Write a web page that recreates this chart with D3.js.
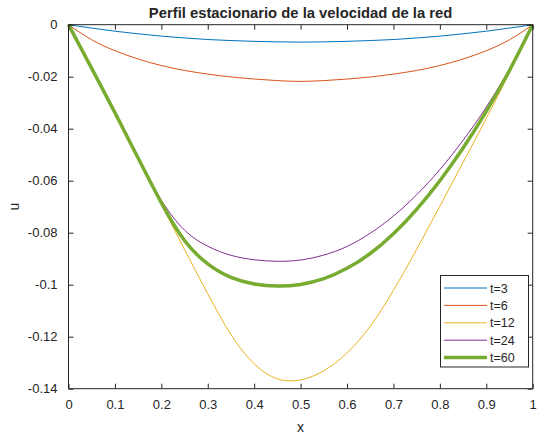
<!DOCTYPE html>
<html><head><meta charset="utf-8">
<script src="https://cdn.jsdelivr.net/npm/d3@7"></script>
<style>body{margin:0;background:#fff}svg{display:block}text{font-family:"Liberation Sans",Arial,Helvetica,sans-serif;fill:#262626}</style>
</head><body>
<script>
const xs = [0,0.05,0.1,0.15,0.2,0.25,0.3,0.35,0.4,0.45,0.5,0.55,0.6,0.65,0.7,0.75,0.8,0.85,0.9,0.95,1];
const t3  = [0,-0.0013,-0.0025,-0.0035,-0.0044,-0.0051,-0.0057,-0.0061,-0.0064,-0.0066,-0.0067,-0.0066,-0.0064,-0.0061,-0.0057,-0.0051,-0.0044,-0.0035,-0.0025,-0.0013,0];
const t6  = [0,-0.0058,-0.0100,-0.0132,-0.0157,-0.0176,-0.0190,-0.0201,-0.0209,-0.0215,-0.0218,-0.0215,-0.0209,-0.0201,-0.0190,-0.0176,-0.0157,-0.0132,-0.0100,-0.0058,0];
const t12 = [0,-0.0168,-0.0338,-0.0513,-0.0690,-0.0865,-0.1035,-0.1192,-0.1304,-0.1362,-0.1366,-0.1331,-0.1262,-0.1160,-0.1022,-0.0864,-0.0698,-0.0530,-0.0360,-0.0185,0];
const t24 = [0,-0.0168,-0.0338,-0.0513,-0.0675,-0.0790,-0.0852,-0.0887,-0.0904,-0.0910,-0.0905,-0.0886,-0.0853,-0.0802,-0.0736,-0.0654,-0.0557,-0.0445,-0.0317,-0.0169,0];
const t60 = [0,-0.0168,-0.0338,-0.0513,-0.0685,-0.0830,-0.0920,-0.0972,-0.0997,-0.1005,-0.0999,-0.0977,-0.0937,-0.0880,-0.0804,-0.0710,-0.0600,-0.0474,-0.0333,-0.0176,0];
const seriesNames = ["t=3","t=6","t=12","t=24","t=60"];
const xTicks = [0,0.1,0.2,0.3,0.4,0.5,0.6,0.7,0.8,0.9,1];
const yTicks = [0,-0.02,-0.04,-0.06,-0.08,-0.1,-0.12,-0.14];
const titleText = "Perfil estacionario de la velocidad de la red";

const W=545,H=437;
const m={left:68.5,right:532.7,top:24.7,bottom:388.7};
const colors=["#0072BD","#D95319","#EDB120","#7E2F8E","#77AC30"];
const widths=[1,1,1,1,3.5];
const svg=d3.select("body").append("svg").attr("width",W).attr("height",H);
const x=d3.scaleLinear().domain([0,1]).range([m.left,m.right]);
const y=d3.scaleLinear().domain([-0.14,0]).range([m.bottom,m.top]);
const all=[t3,t6,t12,t24,t60];

const line=d3.line().x((d,i)=>x(xs[i])).y(d=>y(d)).curve(d3.curveNatural);
const g=svg.append("g");
all.forEach((s,k)=>{
  g.append("path").attr("d",line(s)).attr("fill","none").attr("stroke",colors[k]).attr("stroke-width",widths[k]).attr("stroke-linejoin","round");
});

const fmt=d=>d===0?"0":String(d);
const ax=svg.append("g");
const tl=5;
const bottomAx=d3.axisBottom(x).tickValues(xTicks).tickSize(-tl).tickPadding(tl+6).tickFormat(fmt);
const topAx=d3.axisTop(x).tickValues(xTicks).tickSize(-tl).tickFormat("");
const leftAx=d3.axisLeft(y).tickValues(yTicks).tickSize(-tl).tickPadding(tl+6).tickFormat(fmt);
const rightAx=d3.axisRight(y).tickValues(yTicks).tickSize(-tl).tickFormat("");
function style(sel){sel.selectAll("path").attr("stroke","#262626").attr("stroke-width",1);
 sel.selectAll("line").attr("stroke","#262626").attr("stroke-width",1);
 sel.selectAll("text").attr("font-size",13).attr("font-family",'"Liberation Sans",Arial,sans-serif').attr("fill","#262626");}
const gb=ax.append("g").attr("transform",`translate(0,${m.bottom})`).call(bottomAx); style(gb);
const gt=ax.append("g").attr("transform",`translate(0,${m.top})`).call(topAx); style(gt);
const gl=ax.append("g").attr("transform",`translate(${m.left},0)`).call(leftAx); style(gl);
const gr=ax.append("g").attr("transform",`translate(${m.right},0)`).call(rightAx); style(gr);
gb.selectAll(".domain").attr("d",`M${m.left},0H${m.right}`);
gt.selectAll(".domain").attr("d",`M${m.left},0H${m.right}`);
gl.selectAll(".domain").attr("d",`M0,${m.top}V${m.bottom}`);
gr.selectAll(".domain").attr("d",`M0,${m.top}V${m.bottom}`);

svg.append("text").attr("x",(m.left+m.right)/2).attr("y",18).attr("text-anchor","middle")
 .attr("font-size",14.8).attr("font-weight","bold").text(titleText);
svg.append("text").attr("x",(m.left+m.right)/2).attr("y",432).attr("text-anchor","middle").attr("font-size",14).text("x");
svg.append("text").attr("transform",`translate(19,${(m.top+m.bottom)/2}) rotate(-90)`).attr("text-anchor","middle").attr("font-size",14).text("u");

// legend
const lg=svg.append("g");
lg.append("rect").attr("x",440.5).attr("y",275.5).attr("width",88).attr("height",91.5).attr("fill","#fff").attr("stroke","#262626").attr("stroke-width",1);
seriesNames.forEach((n,k)=>{
  const yy=288+k*17.4;
  lg.append("line").attr("x1",444).attr("x2",487).attr("y1",yy).attr("y2",yy).attr("stroke",colors[k]).attr("stroke-width",widths[k]);
  lg.append("text").attr("x",490).attr("y",yy+4.5).attr("font-size",12.5).text(n);
});
</script>
</body></html>
